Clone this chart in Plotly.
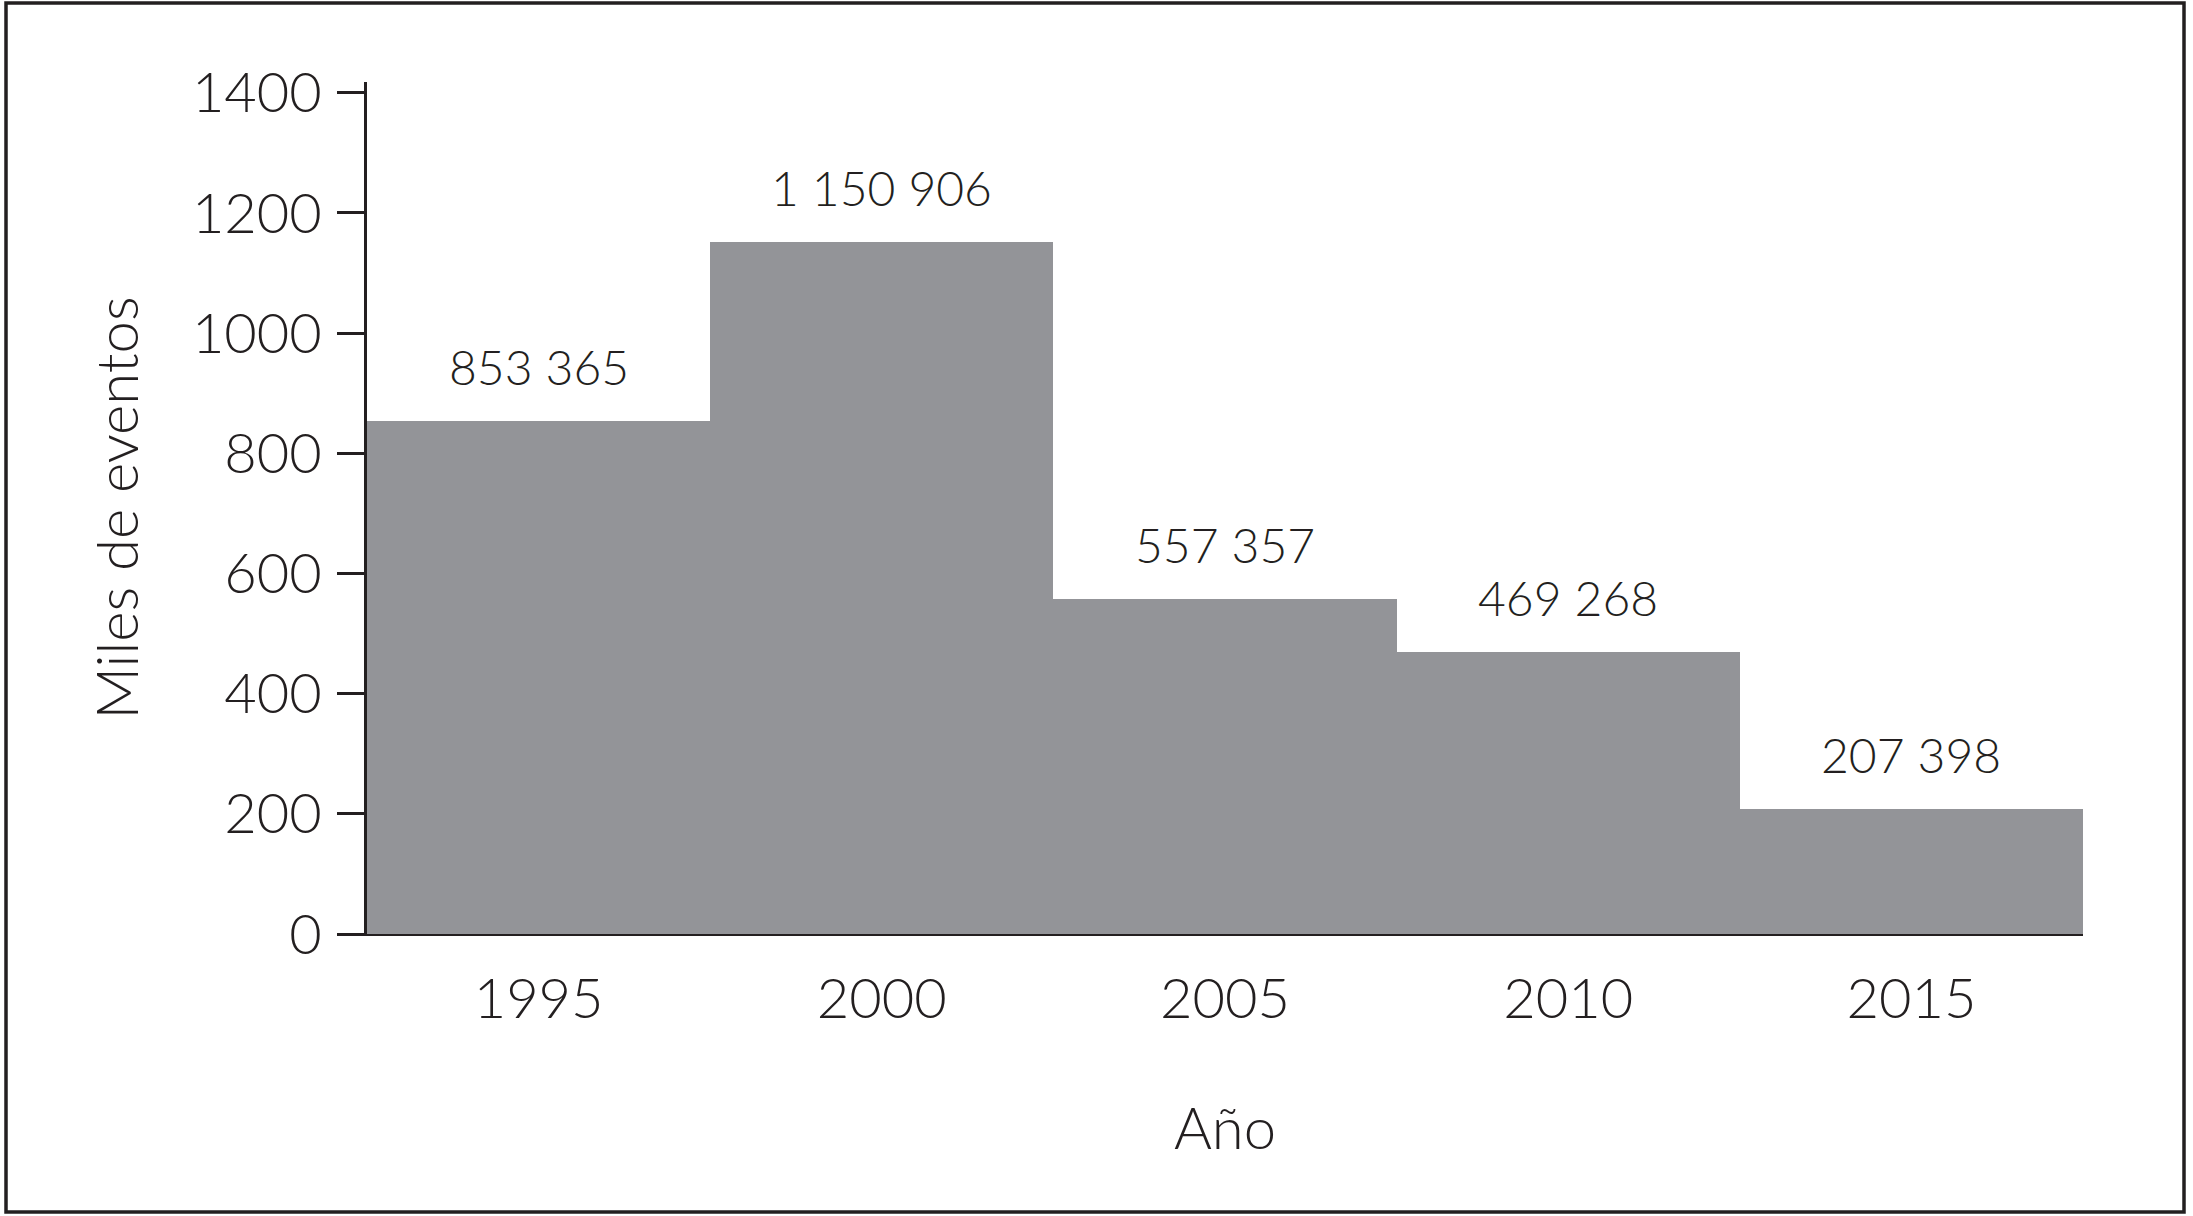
import plotly.graph_objects as go

# ---- data ----
years = ["1995", "2000", "2005", "2010", "2015"]
events = [853365, 1150906, 557357, 469268, 207398]          # number of events
thousands = [e / 1000 for e in events]                       # "Miles de eventos"
labels = [f"{e:,}".replace(",", " ") for e in events]
y_ticks = [0, 200, 400, 600, 800, 1000, 1200, 1400]

INK = "#231f20"
BAR = "#939498"
FONT = "Lato"

W, H = 2193, 1216
ML, MR, MT, MB = 367, 110, 82, 282

fig = go.Figure()
fig.add_trace(go.Bar(
    x=years, y=thousands,
    marker=dict(color=BAR, line=dict(width=0)),
    hoverinfo="skip",
    showlegend=False,
))

# value labels above each bar (x given as category index)
for i, (v, lab) in enumerate(zip(thousands, labels)):
    fig.add_annotation(
        x=i, y=v, xref="x", yref="y", text=lab, showarrow=False,
        xanchor="center", yanchor="bottom", yshift=24,
        font=dict(family=FONT, size=48, color=INK, weight=300),
    )

# outer frame (decoration, in paper coords computed from pixel margins)
pw, ph = W - ML - MR, H - MT - MB
def px_x(p):
    return (p - ML) / pw
def px_y(p):
    return (H - MB - p) / ph
fig.add_shape(
    type="rect", xref="paper", yref="paper",
    x0=px_x(6), x1=px_x(2184), y0=px_y(1212), y1=px_y(3),
    line=dict(color=INK, width=3.5), fillcolor="rgba(0,0,0,0)", layer="above",
)

fig.update_layout(
    width=W, height=H,
    margin=dict(l=ML, r=MR, t=MT, b=MB, pad=0),
    paper_bgcolor="white", plot_bgcolor="white",
    bargap=0,
    font=dict(family=FONT, color=INK, weight=300),
    xaxis=dict(
        type="category", categoryorder="array", categoryarray=years,
        range=[-0.5, 4.5],
        showline=True, linecolor=INK, linewidth=2,
        ticks="", showgrid=False, zeroline=False,
        tickfont=dict(family=FONT, size=56, color=INK, weight=300),
        ticklabelstandoff=15,
        title=dict(text="Año", standoff=79,
                   font=dict(family=FONT, size=58, color=INK, weight=300)),
    ),
    yaxis=dict(
        range=[0, 1418],
        tickvals=y_ticks, ticktext=[str(t) for t in y_ticks],
        ticks="outside", ticklen=27, tickwidth=2.5, tickcolor=INK,
        showline=True, linecolor=INK, linewidth=3,
        showgrid=False, zeroline=False,
        tickfont=dict(family=FONT, size=56, color=INK, weight=300),
        ticklabelstandoff=4,
        title=dict(text="Miles de eventos", standoff=35,
                   font=dict(family=FONT, size=58, color=INK, weight=300)),
    ),
)

fig.write_html(
    "out.html",
    config={"displayModeBar": False},
    post_script="document.body.style.margin='0';document.body.style.overflow='hidden';",
)
